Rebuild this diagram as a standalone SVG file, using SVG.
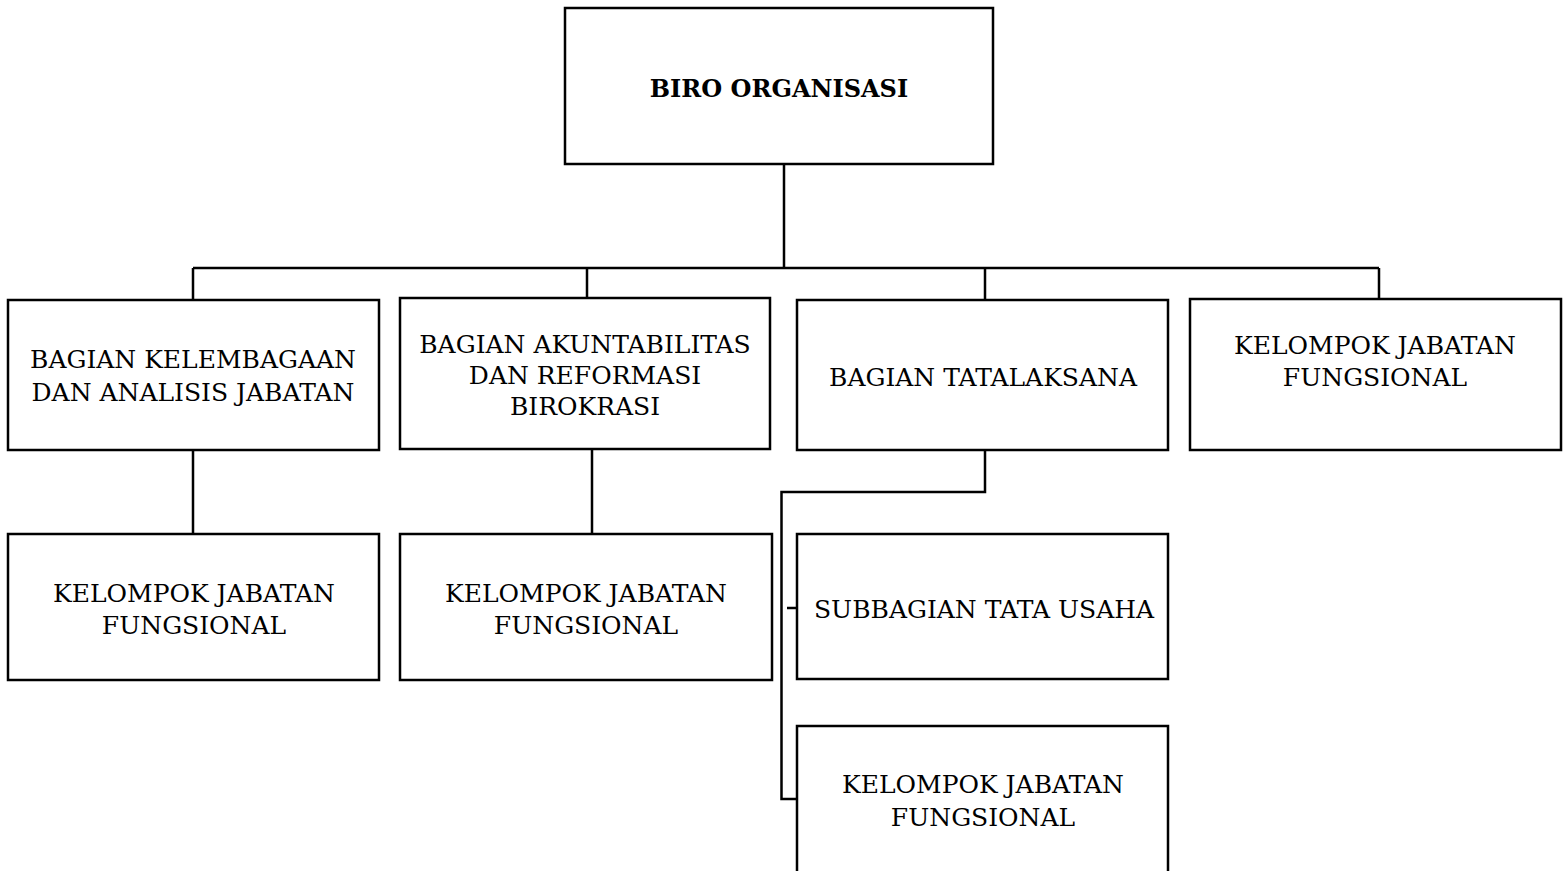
<svg xmlns="http://www.w3.org/2000/svg" width="1565" height="871" viewBox="0 0 1565 871">
<style>
.box{fill:#fff;stroke:#000;stroke-width:2.5}
.ln{fill:none;stroke:#000;stroke-width:2.5}
text{font-family:"DejaVu Serif","Liberation Serif",serif;font-size:25px;fill:#000;text-anchor:middle}
.b{font-weight:bold;font-size:24px}
</style>
<rect width="1565" height="871" fill="#fff"/>
<g id="connectors">
<path class="ln" d="M784,164 V268 M193,268 H1379 M193,268 V300 M587,268 V298 M985,268 V300 M1379,268 V299"/>
<path class="ln" d="M193,450 V534 M592,449 V534"/>
<path class="ln" d="M985,450 V492 H781.5 V799 H797 M787,608 H797"/>
</g>
<g id="biro"><rect class="box" x="565" y="8" width="428" height="156"/><text class="b" x="779" y="97">BIRO ORGANISASI</text></g>
<g id="kelembagaan"><rect class="box" x="8" y="300" width="371" height="150"/><text x="193" y="368">BAGIAN KELEMBAGAAN</text><text x="193" y="401">DAN ANALISIS JABATAN</text></g>
<g id="akuntabilitas"><rect class="box" x="400" y="298" width="370" height="151"/><text x="585" y="353">BAGIAN AKUNTABILITAS</text><text x="585" y="384">DAN REFORMASI</text><text x="585" y="415">BIROKRASI</text></g>
<g id="tatalaksana"><rect class="box" x="797" y="300" width="371" height="150"/><text x="983" y="386">BAGIAN TATALAKSANA</text></g>
<g id="kjf-top"><rect class="box" x="1190" y="299" width="371" height="151"/><text x="1375" y="354">KELOMPOK JABATAN</text><text x="1375" y="386">FUNGSIONAL</text></g>
<g id="kjf-1"><rect class="box" x="8" y="534" width="371" height="146"/><text x="194" y="602">KELOMPOK JABATAN</text><text x="194" y="634">FUNGSIONAL</text></g>
<g id="kjf-2"><rect class="box" x="400" y="534" width="372" height="146"/><text x="586" y="602">KELOMPOK JABATAN</text><text x="586" y="634">FUNGSIONAL</text></g>
<g id="subbagian"><rect class="box" x="797" y="534" width="371" height="145"/><text x="984" y="618">SUBBAGIAN TATA USAHA</text></g>
<g id="kjf-3"><rect class="box" x="797" y="726" width="371" height="170"/><text x="983" y="793">KELOMPOK JABATAN</text><text x="983" y="826">FUNGSIONAL</text></g>
</svg>
